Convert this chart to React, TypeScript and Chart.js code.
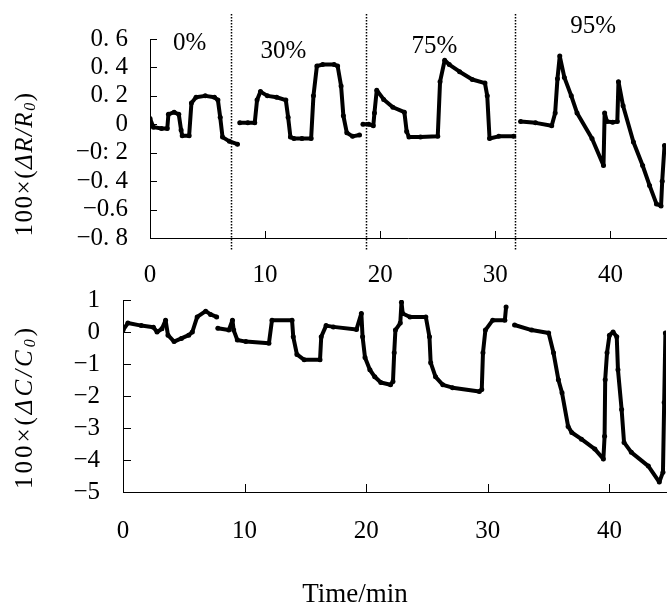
import { useEffect, useRef } from "react";
import { Chart, registerables } from "chart.js";

Chart.register(...registerables);

// ---------- data ----------
// Top panel: resistance change, 100×(ΔR/R0); null = break between humidity stages
const timeTop = [
  0, 0.3, 1.0, 1.5, 1.6, 2.1, 2.5, 2.7, 2.8, 3.4, 3.6, 4.0, 4.8, 5.6, 5.9, 6.1, 6.3, 6.9, 7.6, 7.7,
  7.8, 8.5, 9.1, 9.3, 9.6, 10.2, 11.0, 11.8, 12.0, 12.2, 12.5, 13.2, 14.0, 14.2, 14.5, 15.0, 16.0, 16.3, 16.6, 16.8, 17.1, 17.6, 18.2, 18.3,
  18.5, 19.0, 19.4, 19.5, 19.7, 20.3, 21.1, 22.1, 22.3, 22.5, 23.5, 25.0, 25.2, 25.6, 26.0, 26.9, 28.0, 29.1, 29.3, 29.5, 30.3, 31.6, 31.9,
  32.2, 33.5, 34.9, 35.2, 35.4, 35.6, 36.0, 36.6, 37.1, 38.4, 39.4, 39.5, 39.7, 40.2, 40.6, 40.7, 41.1, 42.0, 42.8, 43.4, 44.0, 44.4, 44.5, 44.7,
];
const resistanceChange = [
  0.04, -0.02, -0.03, -0.03, 0.07, 0.085, 0.07, -0.04, -0.08, -0.08, 0.15, 0.19, 0.2, 0.19, 0.17, 0.05, -0.09, -0.12, -0.14, null,
  0.01, 0.01, 0.01, 0.17, 0.23, 0.2, 0.19, 0.17, 0.05, -0.09, -0.1, -0.1, -0.1, 0.2, 0.41, 0.42, 0.42, 0.41, 0.27, 0.06, -0.06, -0.085, -0.075, null,
  0.0, 0.0, -0.01, 0.08, 0.24, 0.175, 0.12, 0.085, -0.05, -0.09, -0.09, -0.085, 0.3, 0.45, 0.42, 0.37, 0.315, 0.29, 0.2, -0.1, -0.085, -0.085, null,
  0.02, 0.01, -0.01, 0.08, 0.32, 0.48, 0.33, 0.2, 0.08, -0.1, -0.29, 0.08, 0.02, 0.015, 0.02, 0.3, 0.13, -0.125, -0.29, -0.43, -0.56, -0.575, -0.4, -0.15,
];

// Bottom panel: capacitance change, 100×(ΔC/C0)
const timeBottom = [
  0, 0.4, 1.5, 2.5, 2.8, 3.2, 3.5, 3.7, 4.2, 4.8, 5.4, 5.7, 6.1, 6.8, 7.2, 7.7, 7.75,
  7.8, 8.7, 9.0, 9.1, 9.4, 10.1, 12.0, 12.25, 13.9, 14.0, 14.3, 14.9, 16.2, 16.3, 16.7, 17.3, 19.2, 19.6, 19.7, 19.9, 20.3, 20.7, 21.2, 22.0, 22.2, 22.3, 22.4, 22.8, 22.9, 23.0, 23.6, 24.9, 25.2, 25.3, 25.7, 26.3, 27.1, 29.3, 29.5, 29.6, 29.8, 30.4, 31.4, 31.5, 31.9,
  32.2, 33.6, 35.0, 35.4, 35.8, 36.1, 36.6, 36.9, 37.7, 38.8, 39.5, 39.6, 39.65, 39.8, 40.0, 40.3, 40.6, 40.7, 41.0, 41.2, 41.8, 43.2, 44.1, 44.4, 44.5, 44.6,
];
const capacitanceChange = [
  0.06, 0.28, 0.2, 0.15, 0.0, 0.1, 0.37, -0.1, -0.3, -0.2, -0.1, 0.0, 0.47, 0.65, 0.55, 0.47, null,
  0.12, 0.06, 0.37, 0.06, -0.25, -0.3, -0.35, 0.37, 0.37, -0.15, -0.7, -0.87, -0.87, -0.15, 0.2, 0.16, 0.08, 0.58, -0.15, -0.8, -1.18, -1.4, -1.58, -1.65, -1.55, -0.65, 0.06, 0.28, 0.93, 0.58, 0.47, 0.47, -0.15, -0.96, -1.4, -1.65, -1.74, -1.86, -1.8, -0.65, 0.06, 0.37, 0.37, 0.78, null,
  0.22, 0.06, -0.03, -0.65, -1.49, -1.9, -2.95, -3.14, -3.35, -3.66, -3.97, -3.26, -1.49, -0.65, -0.1, 0.0, -0.15, -1.18, -2.42, -3.45, -3.76, -4.19, -4.69, -4.38, -2.2, -0.03,
];

const xTickValues = [0, 10, 20, 30, 40];
const xTickLabels = ["0", "10", "20", "30", "40"];
const yTicksTop = [-0.8, -0.6, -0.4, -0.2, 0, 0.2, 0.4, 0.6];
const yTickLabelsTop = ["−0. 8", "−0.6", "−0. 4", "−0: 2", "0", "0. 2", "0. 4", "0. 6"];
const yTicksBottom = [-5, -4, -3, -2, -1, 0, 1];
const yTickLabelsBottom = ["−5", "−4", "−3", "−2", "−1", "0", "1"];

const humidityLabels = ["0%", "30%", "75%", "95%"];
const humidityLabelTime = [3.45, 11.6, 24.7, 38.5];
const humidityLabelValue = [0.57, 0.51, 0.545, 0.69];
const stageBoundaries = [7.0, 18.8, 31.7];

const xAxisTitle = "Time/min";
const topTitleParts = ["100×(", "ΔR/R", "0", ")"];
const bottomTitleParts = ["100×(", "ΔC/C", "0", ")"];

// ---------- helpers ----------
const SERIF = "'Liberation Serif', 'DejaVu Serif', serif";

function toPoints(ts: number[], vs: (number | null)[]) {
  return ts.map((t, i) => ({ x: t, y: vs[i] }));
}

function drawRotatedTitle(ctx: CanvasRenderingContext2D, parts: string[], cx: number, cy: number, size: number, spacing: number) {
  const fonts = [
    `${size}px ${SERIF}`,
    `italic ${size}px ${SERIF}`,
    `italic ${Math.round(size * 0.62)}px ${SERIF}`,
    `${size}px ${SERIF}`,
  ];
  const offsets = [0, 0, size * 0.22, 0];
  ctx.save();
  (ctx as any).letterSpacing = `${spacing}px`;
  let total = 0;
  const widths = parts.map((p, i) => {
    ctx.font = fonts[i];
    const w = ctx.measureText(p).width;
    total += w;
    return w;
  });
  ctx.translate(cx, cy);
  ctx.rotate(-Math.PI / 2);
  ctx.fillStyle = "#000";
  ctx.textBaseline = "middle";
  ctx.textAlign = "left";
  let x = -total / 2;
  parts.forEach((p, i) => {
    ctx.font = fonts[i];
    ctx.fillText(p, x, offsets[i]);
    x += widths[i];
  });
  ctx.restore();
}

function drawInwardTicks(chart: any, yVals: number[], xVals: number[], len: number) {
  const { ctx, chartArea, scales } = chart;
  ctx.save();
  ctx.strokeStyle = "#000";
  ctx.lineWidth = 1;
  ctx.beginPath();
  yVals.forEach((v, i) => {
    if (i === 0) return;
    const y = Math.round(scales.y.getPixelForValue(v)) + 0.5;
    ctx.moveTo(chartArea.left, y);
    ctx.lineTo(chartArea.left + len, y);
  });
  xVals.forEach((v, i) => {
    if (i === 0) return;
    const x = Math.round(scales.x.getPixelForValue(v)) + 0.5;
    ctx.moveTo(x, chartArea.bottom);
    ctx.lineTo(x, chartArea.bottom - len);
  });
  ctx.stroke();
  ctx.restore();
}

function baseOptions(opts: {
  xMax: number; yMin: number; yMax: number; yTicks: number[]; yLabels: string[];
  yAxisWidth: number; xAxisHeight: number; yPad: number; xPad: number; top: number;
}) {
  return {
    responsive: false,
    animation: false as const,
    layout: { padding: { top: opts.top, right: 0, left: 0, bottom: 0 } },
    plugins: { legend: { display: false }, tooltip: { enabled: false }, title: { display: false } },
    elements: {
      line: { borderColor: "#000", borderWidth: 4, tension: 0, borderJoinStyle: "round" as const, borderCapStyle: "round" as const },
      point: { radius: 2.5, backgroundColor: "#000", borderColor: "#000", borderWidth: 0 },
    },
    scales: {
      x: {
        type: "linear" as const,
        min: 0,
        max: opts.xMax,
        grid: { display: false, drawTicks: false },
        border: { display: true, color: "#000", width: 1 },
        afterBuildTicks: (scale: any) => {
          scale.ticks = xTickValues.map((v) => ({ value: v }));
        },
        afterFit: (scale: any) => {
          scale.height = opts.xAxisHeight;
          scale.paddingLeft = 0;
          scale.paddingRight = 0;
        },
        ticks: {
          padding: opts.xPad,
          color: "#000",
          maxRotation: 0,
          autoSkip: false,
          font: { family: SERIF, size: 25 },
          callback: (_v: any, i: number) => xTickLabels[i],
        },
      },
      y: {
        type: "linear" as const,
        min: opts.yMin,
        max: opts.yMax,
        grid: { display: false, drawTicks: false },
        border: { display: true, color: "#000", width: 1 },
        afterBuildTicks: (scale: any) => {
          scale.ticks = opts.yTicks.map((v) => ({ value: v }));
        },
        afterFit: (scale: any) => {
          scale.width = opts.yAxisWidth;
          scale.paddingTop = 0;
          scale.paddingBottom = 0;
        },
        ticks: {
          padding: opts.yPad,
          color: "#000",
          autoSkip: false,
          font: { family: SERIF, size: 25 },
          callback: (_v: any, i: number) => opts.yLabels[i],
        },
      },
    },
  };
}

export default function App() {
  const topRef = useRef<HTMLCanvasElement>(null);
  const bottomRef = useRef<HTMLCanvasElement>(null);

  useEffect(() => {
    const topOverlay = {
      id: "topOverlay",
      afterDraw(chart: any) {
        const { ctx, chartArea, scales } = chart;
        // stage boundaries
        ctx.save();
        ctx.strokeStyle = "#000";
        ctx.lineWidth = 1.5;
        ctx.setLineDash([1.5, 1.5]);
        stageBoundaries.forEach((b) => {
          const x = Math.round(scales.x.getPixelForValue(b)) + 0.5;
          ctx.beginPath();
          ctx.moveTo(x, 14);
          ctx.lineTo(x, chartArea.bottom + 12);
          ctx.stroke();
        });
        ctx.restore();
        drawInwardTicks(chart, yTicksTop, xTickValues, 7);
        // humidity labels
        ctx.save();
        ctx.fillStyle = "#000";
        ctx.font = `25px ${SERIF}`;
        ctx.textAlign = "center";
        ctx.textBaseline = "middle";
        humidityLabels.forEach((l, i) => {
          ctx.fillText(l, scales.x.getPixelForValue(humidityLabelTime[i]), scales.y.getPixelForValue(humidityLabelValue[i]));
        });
        ctx.restore();
        drawRotatedTitle(ctx, topTitleParts, 25, 164, 25, 1.5);
      },
    };
    const bottomOverlay = {
      id: "bottomOverlay",
      afterDraw(chart: any) {
        const { ctx } = chart;
        drawInwardTicks(chart, yTicksBottom, xTickValues, 8);
        drawRotatedTitle(ctx, bottomTitleParts, 25, 122, 25, 3);
        ctx.save();
        ctx.fillStyle = "#000";
        ctx.font = `27px ${SERIF}`;
        ctx.textAlign = "center";
        ctx.textBaseline = "alphabetic";
        ctx.fillText(xAxisTitle, 355, 317);
        ctx.restore();
      },
    };

    const top = new Chart(topRef.current!, {
      type: "line",
      data: {
        datasets: [{ data: toPoints(timeTop, resistanceChange) as any, spanGaps: false }],
      },
      options: baseOptions({
        xMax: 44.83, yMin: -0.8, yMax: 0.6, yTicks: yTicksTop, yLabels: yTickLabelsTop,
        yAxisWidth: 150, xAxisHeight: 47, yPad: 22, xPad: 22, top: 39,
      }) as any,
      plugins: [topOverlay],
    });
    const bottom = new Chart(bottomRef.current!, {
      type: "line",
      data: {
        datasets: [{ data: toPoints(timeBottom, capacitanceChange) as any, spanGaps: false }],
      },
      options: baseOptions({
        xMax: 44.65, yMin: -5, yMax: 1, yTicks: yTicksBottom, yLabels: yTickLabelsBottom,
        yAxisWidth: 123, xAxisHeight: 113, yPad: 23, xPad: 24, top: 15,
      }) as any,
      plugins: [bottomOverlay],
    });
    return () => {
      top.destroy();
      bottom.destroy();
    };
  }, []);

  return (
    <div style={{ position: "fixed", left: 0, top: 0, width: 670, height: 605, background: "#fff", overflow: "hidden" }}>
      <canvas ref={topRef} width={670} height={285} style={{ position: "absolute", left: 0, top: 0, display: "block" }} />
      <canvas ref={bottomRef} width={670} height={320} style={{ position: "absolute", left: 0, top: 285, display: "block" }} />
    </div>
  );
}
